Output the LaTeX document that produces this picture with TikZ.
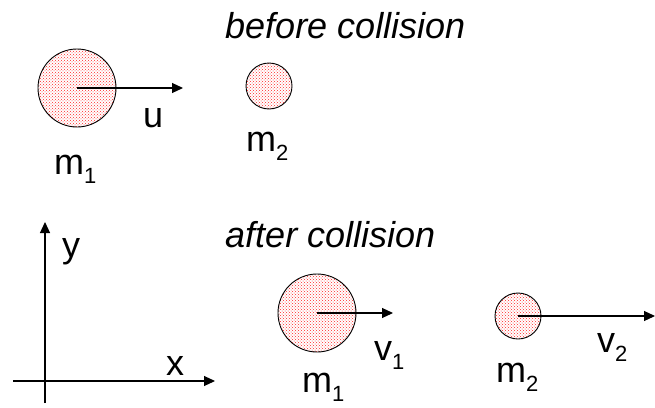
\documentclass[tikz,border=0pt]{standalone}
\usepackage{fontspec}
\setmainfont{Liberation Sans}
\usetikzlibrary{arrows.meta,patterns}
\newcommand\mysub[1]{\raisebox{-9pt}{\fontsize{22}{24}\selectfont #1}}
\begin{document}
\begin{tikzpicture}[x=1pt,y=-1pt,
  ball/.style={circle,draw=black,line width=0.9pt,inner sep=0pt,fill=white,
    pattern=crosshatch dots,pattern color=red!85},
  vec/.style={line width=1.1pt,-{Triangle[length=11pt,width=10pt]}},
  lbl/.style={anchor=base west,inner sep=0pt,font=\fontsize{36}{40}\selectfont},
  ttl/.style={lbl,font=\fontsize{36}{40}\selectfont\itshape}]
\useasboundingbox (0,0) rectangle (655,407);
% before
\node[ttl] (tb) at (225,38) {before collision};
\node[ball,minimum size=78pt] (b1) at (77,88) {};
\node[ball,minimum size=46pt] (b2) at (269,86) {};
\coordinate (ue) at (183,88);
\draw[vec] (b1.center) -- (ue);
\node[lbl] (u) at (143,127) {u};
\node[lbl] (m1a) at (54,174) {m\mysub{1}};
\node[lbl] (m2a) at (246,151) {m\mysub{2}};
% axes
\coordinate (yb) at (45,403);
\coordinate (yt) at (45,222);
\coordinate (xl) at (13,381);
\coordinate (xr) at (215,381);
\draw[vec] (yb) -- (yt);
\draw[vec] (xl) -- (xr);
\node[lbl] (yl) at (62,257) {y};
\node[lbl] (xlab) at (166,375) {x};
% after
\node[ttl] (ta) at (225,247) {after collision};
\node[ball,minimum size=78pt] (a1) at (317,313) {};
\node[ball,minimum size=46pt] (a2) at (518,316) {};
\coordinate (v1e) at (393,313);
\coordinate (v2e) at (655,316);
\draw[vec] (a1.center) -- (v1e);
\draw[vec] (a2.center) -- (v2e);
\node[lbl] (v1) at (374,360) {v\mysub{1}};
\node[lbl] (v2) at (597,352) {v\mysub{2}};
\node[lbl] (m1b) at (302,392) {m\mysub{1}};
\node[lbl] (m2b) at (496,382) {m\mysub{2}};
\end{tikzpicture}
\end{document}
